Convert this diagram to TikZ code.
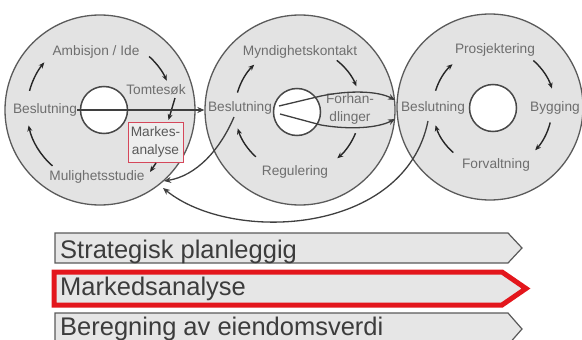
\documentclass[tikz,border=0pt]{standalone}
\usepackage{fontspec}
\setmainfont{Liberation Sans}
\usetikzlibrary{arrows.meta,calc}
\definecolor{ringfill}{HTML}{E3E3E3}
\definecolor{ringline}{HTML}{5A5A5A}
\definecolor{labelgray}{HTML}{6E6E6E}
\definecolor{barfill}{HTML}{E6E6E6}
\definecolor{bartext}{HTML}{3C3C3C}
\definecolor{hilite}{HTML}{E3161C}
\definecolor{boxred}{HTML}{D5475A}
\begin{document}
\begin{tikzpicture}[x=1pt,y=1pt,
  ring/.style={circle, draw=ringline, fill=ringfill, line width=1.3pt, inner sep=0pt},
  hub/.style={circle, draw=ringline!80!black, fill=white, line width=1.5pt, inner sep=0pt, minimum size=47pt},
  lbl/.style={font=\fontsize{13.7}{18}\selectfont, text=labelgray, inner sep=0pt, align=center},
  cyc/.style={draw=black!85, line width=1.4pt, -{Stealth[length=6pt,width=5pt]}},
  flow/.style={draw=ringline!70!black, line width=1.3pt, -{Stealth[length=7pt,width=6pt]}},
  barshape/.style={draw=ringline, fill=barfill, line width=1.2pt},
  bartxt/.style={font=\fontsize{25.5}{26}\selectfont, text=bartext, anchor=base west, inner sep=0pt}]
\useasboundingbox (0,0) rectangle (582,-340);
\clip (0,0) rectangle (582,-340);

% the three phase rings with their hubs
\node[ring, minimum size=190pt] (r1) at (100,-110) {};
\node[ring, minimum size=190pt] (r2) at (300,-110) {};
\node[ring, minimum size=186pt] (r3) at (490,-107) {};
\node[hub] (h1) at (104,-110) {};
\node[hub] (h2) at (297,-112) {};
\node[hub] (h3) at (493,-108) {};
\coordinate (c1) at (101,-110);
\coordinate (c2) at (298,-110);
\coordinate (c3) at (492,-108);

% ring 1 labels
\node[lbl] (amb) at (96,-52) {Ambisjon / Ide};
\node[lbl] (tomt) at (156,-90) {Tomtesøk};
\node[lbl] (bes1) at (45,-110) {Beslutning};
\node[lbl] (mul) at (97,-177) {Mulighetsstudie};
\node[draw=boxred, fill=ringfill!60!white, line width=1pt, minimum width=55pt, minimum height=40pt,
      font=\fontsize{13.7}{18}\selectfont, text=black!65, align=center, inner sep=0pt] (mark) at (155.5,-142) {Markes-\\analyse};

% ring 2 labels
\node[lbl] (mynd) at (300,-52) {Myndighetskontakt};
\node[lbl] (bes2) at (240,-108) {Beslutning};
\node[lbl] (forh) at (350,-109) {Forhan-\\dlinger};
\node[lbl] (reg) at (295,-172) {Regulering};

% ring 3 labels
\node[lbl] (pros) at (495,-50) {Prosjektering};
\node[lbl] (bes3) at (433,-108) {Beslutning};
\node[lbl] (bygg) at (555,-108) {Bygging};
\node[lbl] (forv) at (496,-165) {Forvaltning};

% cycle arrows, ring 1
\draw[cyc] ($(c1)+(165:74)$) arc[start angle=165, end angle=140, radius=74];
\draw[cyc] ($(c1)+(48:72)$) arc[start angle=48, end angle=24, radius=72];
\draw[cyc] (175,-98) -- (168.5,-120);
\draw[cyc] (156,-163) -- (150,-172);
\draw[cyc] ($(c1)+(229:74)$) arc[start angle=229, end angle=192, radius=74];

% cycle arrows, ring 2
\draw[cyc] ($(c2)+(164:63)$) arc[start angle=164, end angle=134, radius=63];
\draw[cyc] ($(c2)+(52:63)$) arc[start angle=52, end angle=22, radius=63];
\draw[cyc] ($(c2)+(-22:62)$) arc[start angle=-22, end angle=-50, radius=64];
\draw[cyc] ($(c2)+(228:63)$) arc[start angle=228, end angle=197, radius=63];

% cycle arrows, ring 3
\draw[cyc] ($(c3)+(163:59)$) arc[start angle=163, end angle=132, radius=59];
\draw[cyc] ($(c3)+(49:63)$) arc[start angle=49, end angle=18, radius=63];
\draw[cyc] ($(c3)+(-14:60)$) arc[start angle=-14, end angle=-43, radius=63];
\draw[cyc] ($(c3)+(229:59)$) arc[start angle=229, end angle=197, radius=59];

% decision link from ring 1 to ring 2
\draw[flow] (bes1.east) -- (r2.west);

% negotiation loop in ring 2
\coordinate (fu0) at (279,-106);
\coordinate (fu1) at (321,-96);
\coordinate (fu2) at (395,-100);
\coordinate (fl0) at (280,-114);
\coordinate (fl1) at (321,-125);
\coordinate (fl2) at (395,-119);
\draw[flow] (fu0) -- (fu1) .. controls (350,-90) and (378,-91) .. (fu2);
\draw[flow] (fl0) -- (fl1) .. controls (350,-130) and (378,-128) .. (fl2);

% feedback links back to the feasibility study
\coordinate (back2) at (234,-117);
\coordinate (back3) at (428,-121);
\coordinate (in2) at (164,-181);
\coordinate (in3) at (163,-188);
\draw[flow] (back2) .. controls (220,-150) and (196,-176) .. (in2);
\draw[flow] (back3) .. controls (405,-235) and (232,-244) .. (in3);

% phase bars
\draw[barshape] (55,-233) -- (508,-233) -- (522,-248) -- (508,-263) -- (55,-263) -- cycle;
\node[bartxt] (bar1) at (60,-258) {Strategisk planleggig};
\draw[fill=barfill, draw=hilite, line width=5pt] (54,-272) -- (502,-272) -- (526,-288.5) -- (502,-305) -- (54,-305) -- cycle;
\node[bartxt] (bar2) at (60,-295) {Markedsanalyse};
\draw[barshape] (55,-313) -- (508,-313) -- (522,-329) -- (508,-345) -- (55,-345) -- cycle;
\node[bartxt] (bar3) at (60,-335) {Beregning av eiendomsverdi};
\end{tikzpicture}
\end{document}
